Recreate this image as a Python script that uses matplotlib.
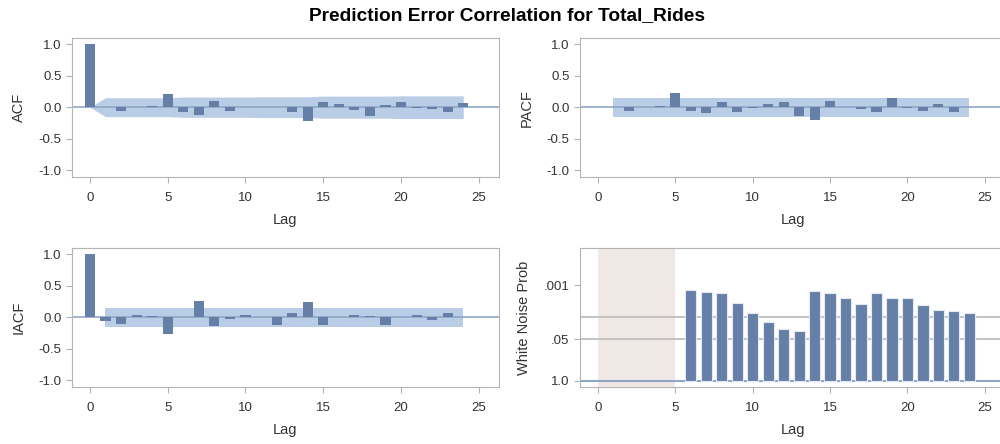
import matplotlib.pyplot as plt
import numpy as np

plt.rcParams['font.family'] = ['Liberation Sans', 'DejaVu Sans']

lags = list(range(0, 25))
acf = [1.0, 0.0, -0.06, 0.01, 0.02, 0.21, -0.07, -0.12, 0.10, -0.06, 0.005, 0.01,
       0.01, -0.08, -0.22, 0.08, 0.05, -0.04, -0.14, 0.04, 0.085, -0.005, -0.03, -0.07, 0.06]
acf_band = [0.0, 0.15, 0.15, 0.15, 0.15, 0.15, 0.16, 0.16, 0.16, 0.16, 0.16, 0.165,
            0.165, 0.165, 0.165, 0.175, 0.175, 0.175, 0.175, 0.175, 0.18, 0.18, 0.18, 0.18, 0.18]
pacf_lags = list(range(1, 25))
pacf = [0.0, -0.06, 0.01, 0.02, 0.22, -0.06, -0.10, 0.09, -0.08, -0.005, 0.05, 0.075,
        -0.14, -0.21, 0.095, 0.0, -0.03, -0.075, 0.14, -0.005, -0.06, 0.05, -0.075, 0.01]
iacf = [1.0, -0.065, -0.10, 0.035, 0.025, -0.26, 0.0, 0.26, -0.14, -0.035, 0.04, 0.0,
        -0.12, 0.065, 0.24, -0.12, 0.0, 0.04, 0.025, -0.12, 0.005, 0.04, -0.045, 0.06, 0.005]
band_lim = 0.15
wn_lags = list(range(6, 25))
wn_prob = [0.0014, 0.0016, 0.0017, 0.0035, 0.0076, 0.0141, 0.0234, 0.0263, 0.0015,
           0.0017, 0.0025, 0.0039, 0.0017, 0.0025, 0.0025, 0.0040, 0.0058, 0.0063, 0.0072]

bar_c = '#667fa6'
band_c = '#bacde6'
zero_c = '#8fa6c6'
frame_c = '#b4b4b4'
txt_c = '#333333'

fig = plt.figure(figsize=(10, 4.44), dpi=100)
fig.suptitle('Prediction Error Correlation for Total_Rides', x=0.507, y=0.985,
             fontsize=13.8, fontweight='bold')

ax1 = fig.add_axes([0.072, 0.601, 0.427, 0.313])
ax2 = fig.add_axes([0.580, 0.601, 0.425, 0.313])
ax3 = fig.add_axes([0.072, 0.128, 0.427, 0.313])
ax4 = fig.add_axes([0.580, 0.128, 0.425, 0.313])


def style(ax, ylabel):
    for s in ax.spines.values():
        s.set_color(frame_c)
    ax.set_xlim(-1.15, 26.3)
    ax.set_xticks([0, 5, 10, 15, 20, 25])
    ax.tick_params(colors=frame_c, labelcolor=txt_c, labelsize=9.5, length=4)
    ax.tick_params(axis='x', pad=7)
    ax.set_xlabel('Lag', fontsize=10.5, color=txt_c, labelpad=6)
    ax.set_ylabel(ylabel, fontsize=10.5, color=txt_c, labelpad=9)


def corr_panel(ax, x, y, ylabel):
    ax.axhline(0, color=zero_c, lw=1.2, zorder=2)
    ax.bar(x, y, width=0.65, color=bar_c, zorder=3)
    ax.set_ylim(-1.11, 1.095)
    ax.set_yticks([-1.0, -0.5, 0.0, 0.5, 1.0])
    ax.set_yticklabels(['-1.0', '-0.5', '0.0', '0.5', '1.0'])
    style(ax, ylabel)


band = np.array(acf_band)
ax1.fill_between(lags, -band, band, color=band_c, lw=0, zorder=1)
corr_panel(ax1, lags, acf, 'ACF')

ax2.fill_between([1, 24], -band_lim, band_lim, color=band_c, lw=0, zorder=1)
corr_panel(ax2, pacf_lags, pacf, 'PACF')

ax3.fill_between([1, 24], -band_lim, band_lim, color=band_c, lw=0, zorder=1)
corr_panel(ax3, lags, iacf, 'IACF')

# white noise test, drawn on -log10(p)
ax4.axvspan(0, 5, color='#f0e8e4', lw=0, zorder=0)
ax4.axhline(-np.log10(0.01), color='#c4c4c4', lw=1.5, zorder=1)
ax4.axhline(-np.log10(0.05), color='#c4c4c4', lw=1.5, zorder=1)
ax4.axhline(0, color=zero_c, lw=1.5, zorder=2)
ax4.bar(wn_lags, -np.log10(wn_prob), width=0.72, color=bar_c,
        edgecolor='#e4eaf3', lw=0.8, zorder=3)
ax4.set_ylim(-0.2, 4.17)
ax4.set_yticks([0, -np.log10(0.05), 3])
ax4.set_yticklabels(['1.0', '.05', '.001'])
style(ax4, 'White Noise Prob')

fig.savefig('out.png', dpi=100)
